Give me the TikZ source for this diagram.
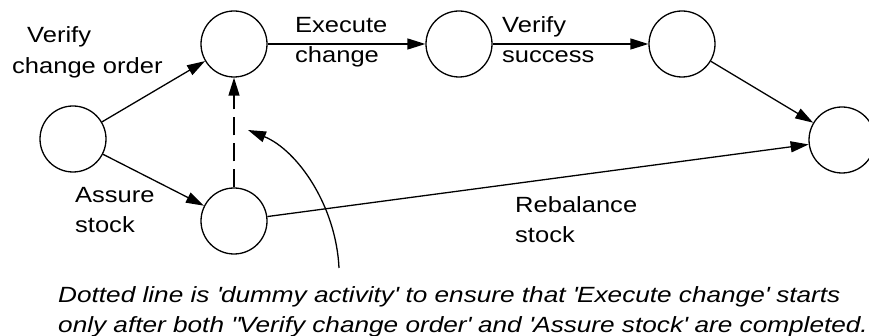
\documentclass[tikz,border=0pt]{standalone}
\usepackage{fontspec}
\setmainfont{Liberation Sans}[FakeStretch=1.16]
\newfontfamily\capfont{Liberation Sans}[FakeStretch=1.19]
\usetikzlibrary{arrows.meta}
\newcommand\sq{\textquotesingle}
\tikzset{
  ev/.style={circle, draw, line width=1.3pt, minimum size=66pt, inner sep=0pt},
  act/.style={line width=1.3pt, -{Triangle[length=18pt,width=11pt]}},
  dummy/.style={act, dash pattern=on 18pt off 8pt},
  lbl/.style={anchor=base west, inner sep=0pt, font=\fontsize{22}{26}\selectfont},
  captxt/.style={anchor=base west, inner sep=0pt, font=\capfont\fontsize{22}{26}\selectfont\itshape},
}
\begin{document}
\begin{tikzpicture}[x=1pt, y=-1pt]
\useasboundingbox (0,0) rectangle (869,336);
\node[ev] (A) at (73,139) {};
\node[ev] (B) at (234,44) {};
\node[ev] (C) at (234,221) {};
\node[ev] (D) at (459,44) {};
\node[ev] (E) at (682,44) {};
\node[ev] (F) at (842,140) {};
\draw[act] (A) -- (B);
\draw[act] (A) -- (C);
\draw[act] (B) -- (D);
\draw[act] (D) -- (E);
\draw[act] (E) -- (F);
\draw[act] (C) -- (F);
\draw[dummy] (C) -- (B);
\coordinate (cs) at (339,268);
\coordinate (ct) at (248,130);
\draw[act] (cs) .. controls (336,205) and (297,150) .. (ct);
\node[lbl] (v1) at (27,43) {Verify};
\node[lbl] (v2) at (12,74) {change order};
\node[lbl] (e1) at (295,33) {Execute};
\node[lbl] (e2) at (295,63) {change};
\node[lbl] (s1) at (502,33) {Verify};
\node[lbl] (s2) at (502,63) {success};
\node[lbl] (a1) at (75,203) {Assure};
\node[lbl] (a2) at (75,233) {stock};
\node[lbl] (r1) at (515,213) {Rebalance};
\node[lbl] (r2) at (515,243) {stock};
\node[captxt] (c1) at (58,302) {Dotted line is \sq dummy activity\sq\ to ensure that \sq Execute change\sq\ starts};
\node[captxt] (c2) at (58,332) {only after both \textquotedbl Verify change order\sq\ and \sq Assure stock\sq\ are completed.};
\end{tikzpicture}
\end{document}
